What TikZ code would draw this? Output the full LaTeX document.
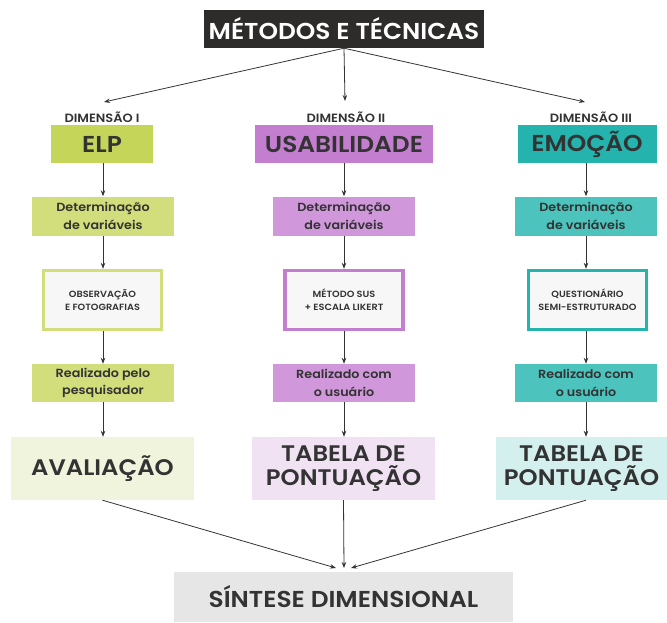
\documentclass[tikz,border=0pt]{standalone}
\usepackage{fontspec}
\setmainfont{Poppins}[FakeStretch=1.08, BoldFont={Poppins SemiBold}, BoldFeatures={FakeStretch=1.08}]
\usetikzlibrary{arrows.meta}
\definecolor{dark}{HTML}{2E2B2B}
\definecolor{gA}{HTML}{C5D55A}
\definecolor{gB}{HTML}{D2DE7B}
\definecolor{gC}{HTML}{F1F4DC}
\definecolor{pA}{HTML}{C47ED0}
\definecolor{pB}{HTML}{D098DB}
\definecolor{pC}{HTML}{F0E2F3}
\definecolor{tA}{HTML}{25B3AD}
\definecolor{tB}{HTML}{4CC4BD}
\definecolor{tC}{HTML}{D3EFEE}
\definecolor{ink}{HTML}{333333}
\definecolor{gray}{HTML}{E6E6E6}
\begin{document}
\begin{tikzpicture}[x=1pt,y=-1pt,
  box/.style={inner sep=0pt, align=center, text=ink, font=\bfseries},
  head/.style={box, minimum height=38pt, font=\bfseries\fontsize{23}{24}\selectfont},
  dimlab/.style={box, font=\bfseries\fontsize{12}{13}\selectfont},
  var/.style={box, minimum width=142pt, minimum height=39pt, font=\bfseries\fontsize{11.8}{17.5}\selectfont},
  meth/.style={box, fill=white!97!black, line width=3.4pt, minimum width=118pt, minimum height=59pt, font=\bfseries\fontsize{9}{13}\selectfont},
  res/.style={box, minimum width=183pt, minimum height=63pt, font=\bfseries\fontsize{22.5}{23.5}\selectfont},
  arr/.style={draw=ink, line width=0.8pt, -{Stealth[length=6pt,width=4.5pt]}}
]
\useasboundingbox (0,0) rectangle (667,622);
% top
\node[box, fill=dark, text=white, minimum width=280pt, minimum height=38pt, font=\bfseries\fontsize{23}{24}\selectfont] (top) at (344,29) {MÉTODOS E TÉCNICAS};
% dimension labels
\node[dimlab] (d1) at (102,117) {DIMENSÃO I};
\node[dimlab] (d2) at (346,117) {DIMENSÃO II};
\node[dimlab] (d3) at (591,117) {DIMENSÃO III};
\coordinate (e1) at (104,102);
\coordinate (e2) at (345,101);
\coordinate (e3) at (585,102);
% headers
\node[head, fill=gA, minimum width=102pt] (h1) at (102,144) {ELP};
\node[head, fill=pA, minimum width=178pt] (h2) at (344,144) {USABILIDADE};
\node[head, fill=tA, minimum width=139pt] (h3) at (587,144) {EMOÇÃO};
% variables
\node[var, fill=gB] (v1) at (103,216) {Determinação\\de variáveis};
\node[var, fill=pB] (v2) at (344,216) {Determinação\\de variáveis};
\node[var, fill=tB] (v3) at (586,216) {Determinação\\de variáveis};
% methods
\node[meth, draw=gB] (m1) at (102.5,300) {OBSERVAÇÃO\\E FOTOGRAFIAS};
\node[meth, draw=pA] (m2) at (344,300) {MÉTODO SUS\\+ ESCALA LIKERT};
\node[meth, draw=tA] (m3) at (587.5,300) {QUESTIONÁRIO\\SEMI-ESTRUTURADO};
% realized
\node[var, fill=gB, minimum height=38pt] (r1) at (103,383) {Realizado pelo\\pesquisador};
\node[var, fill=pB, minimum height=38pt] (r2) at (344,383) {Realizado com\\o usuário};
\node[var, fill=tB, minimum height=38pt] (r3) at (586,383) {Realizado com\\o usuário};
% results
\node[res, fill=gC] (b1) at (102.5,468.5) {AVALIAÇÃO};
\node[res, fill=pC] (b2) at (343.5,468.5) {TABELA DE\\PONTUAÇÃO};
\node[res, fill=tC, minimum width=171pt] (b3) at (581.5,468.5) {TABELA DE\\PONTUAÇÃO};
% synthesis
\node[box, fill=gray, minimum width=339pt, minimum height=50pt, font=\bfseries\fontsize{23}{25}\selectfont] (s) at (343.5,597) {SÍNTESE DIMENSIONAL};
\coordinate (s1) at (336,568);
\coordinate (s2) at (344,568);
\coordinate (s3) at (351,568);
% arrows
\draw[arr] (top.south) -- (e1);
\draw[arr] (top.south) -- (e2);
\draw[arr] (top.south) -- (e3);
\foreach \i in {1,2,3}{
  \draw[arr] (h\i.south -| v\i) -- (v\i.north);
  \draw[arr] (v\i.south) -- (m\i.north -| v\i);
  \draw[arr] (m\i.south -| v\i) -- (r\i.north);
  \draw[arr] (r\i.south) -- (b\i.north -| r\i);
}
\draw[arr] (b1.south) -- (s1);
\draw[arr] (b2.south) -- (s2);
\draw[arr] (b3.south -| r3) -- (s3);
\end{tikzpicture}
\end{document}
